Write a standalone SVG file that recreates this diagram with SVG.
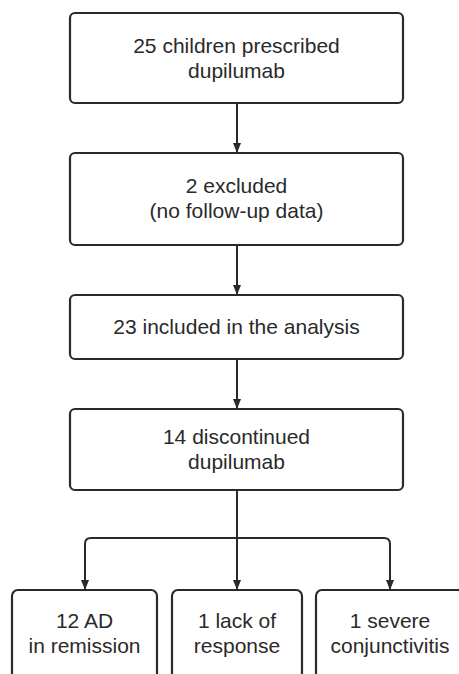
<svg xmlns="http://www.w3.org/2000/svg" width="459" height="674" viewBox="0 0 459 674">
<defs>
<style>
.box{fill:#fff;stroke:#2a2a2a;stroke-width:2.2}
.t{font-family:"Liberation Sans",Arial,sans-serif;font-size:21px;fill:#2a2a2a;text-anchor:middle}
.c{fill:none;stroke:#2a2a2a;stroke-width:2}
</style>
<marker id="ah" markerUnits="userSpaceOnUse" markerWidth="10" markerHeight="10" viewBox="0 0 10 10" refX="10" refY="5" orient="auto">
<path d="M0,1 L10,5 L0,9 Z" fill="#2a2a2a"/>
</marker>
</defs>
<rect width="459" height="674" fill="#fff"/>
<g id="connectors">
<line class="c" x1="237" y1="103" x2="237" y2="153" marker-end="url(#ah)"/>
<line class="c" x1="237" y1="245" x2="237" y2="295" marker-end="url(#ah)"/>
<line class="c" x1="237" y1="359" x2="237" y2="409" marker-end="url(#ah)"/>
<line class="c" x1="237" y1="490" x2="237" y2="590" marker-end="url(#ah)"/>
<path class="c" d="M237,538 H91 Q85,538 85,544 V590" marker-end="url(#ah)"/>
<path class="c" d="M237,538 H384 Q390,538 390,544 V590" marker-end="url(#ah)"/>
</g>
<g id="n1">
<rect class="box" x="70" y="13" width="333" height="90" rx="5"/>
<text class="t" x="236.5" y="53">25 children prescribed</text>
<text class="t" x="236.5" y="78">dupilumab</text>
</g>
<g id="n2">
<rect class="box" x="70" y="153" width="333" height="92" rx="5"/>
<text class="t" x="236.5" y="193">2 excluded</text>
<text class="t" x="236.5" y="218">(no follow-up data)</text>
</g>
<g id="n3">
<rect class="box" x="70" y="295" width="333" height="64" rx="5"/>
<text class="t" x="236.5" y="334">23 included in the analysis</text>
</g>
<g id="n4">
<rect class="box" x="70" y="409" width="333" height="81" rx="5"/>
<text class="t" x="236.5" y="444">14 discontinued</text>
<text class="t" x="236.5" y="469">dupilumab</text>
</g>
<g id="n5">
<rect class="box" x="12" y="590" width="145" height="100" rx="6"/>
<text class="t" x="84.5" y="628">12 AD</text>
<text class="t" x="84.5" y="653">in remission</text>
</g>
<g id="n6">
<rect class="box" x="172" y="590" width="130" height="100" rx="6"/>
<text class="t" x="237" y="628">1 lack of</text>
<text class="t" x="237" y="653">response</text>
</g>
<g id="n7">
<rect class="box" x="316" y="590" width="148" height="100" rx="6"/>
<text class="t" x="390" y="628">1 severe</text>
<text class="t" x="390" y="653">conjunctivitis</text>
</g>
</svg>
